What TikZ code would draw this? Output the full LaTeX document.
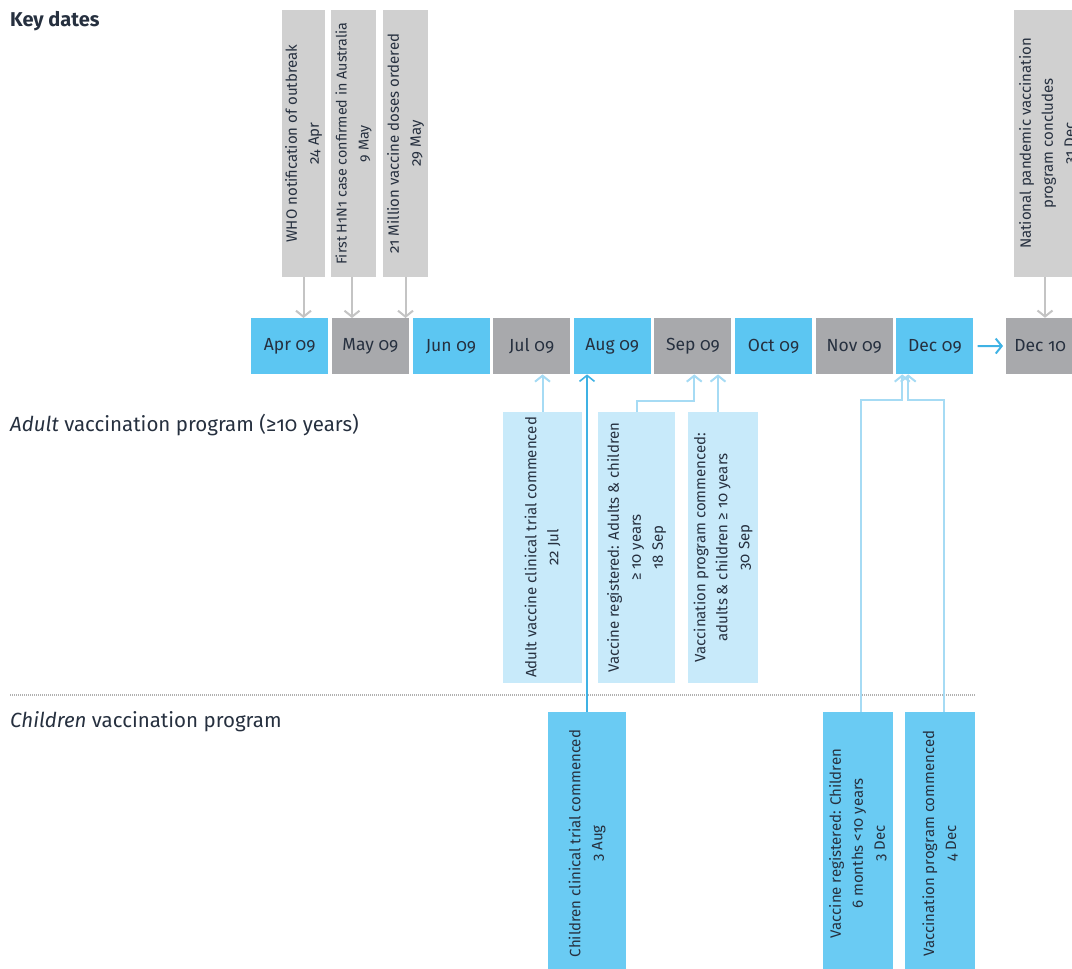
\documentclass[tikz,border=0pt]{standalone}
\usepackage{fontspec}
\setmainfont{Fira Sans}[Numbers=OldStyle]
\usepackage{xcolor}
\usetikzlibrary{arrows.meta,calc,positioning}

\definecolor{monthblue}{HTML}{5CC6F2}
\definecolor{monthgray}{HTML}{A8A9AC}
\definecolor{keygray}{HTML}{D0D0D0}
\definecolor{adultblue}{HTML}{C8EAFA}
\definecolor{childblue}{HTML}{6ACBF3}
\definecolor{arrowgray}{HTML}{C4C4C4}
\definecolor{linkblue}{HTML}{A6DBF4}
\definecolor{trialblue}{HTML}{3FB2E4}
\definecolor{textdark}{HTML}{26303F}

\begin{document}
\begin{tikzpicture}[x=1pt,y=-1pt,
monthnode/.style={rectangle, inner sep=0pt, minimum width=77pt, minimum height=56pt, text=textdark, font={\fontsize{17.5}{20}\selectfont}},
keynode/.style={rectangle, fill=keygray, rotate=90, inner sep=0pt, align=center, text=textdark, font={\fontsize{15}{22}\selectfont}},
adultnode/.style={keynode, fill=adultblue},
childnode/.style={keynode, fill=childblue},
heading/.style={anchor=base west, inner sep=0pt, text=textdark, font={\fontsize{20.5}{24}\selectfont}},
grayarrow/.style={draw=arrowgray, line width=2pt, -{Straight Barb[length=6pt,width=15pt]}},
linkarrow/.style={draw=linkblue, line width=2pt, -{Straight Barb[length=6pt,width=15pt]}},
trialarrow/.style={draw=trialblue, line width=1.6pt, -{Straight Barb[length=6pt,width=15pt]}},
]
\useasboundingbox (0,0) rectangle (1072,969);
\clip (0,0) rectangle (1072,969);

%Headings
\node[heading, font={\fontsize{20}{24}\selectfont\bfseries}] (keyhead) at (10,27) {Key dates};
\node[heading] (adulthead) at (10,431) {\textit{Adult} vaccination program (≥10 years)};
\node[heading] (childhead) at (10,727) {\textit{Children} vaccination program};

%Months
\node[monthnode, fill=monthblue, anchor=north west] (apr) at (251,318) {Apr 09};
\node[monthnode, fill=monthgray] (may) [right=3.25pt of apr] {May 09};
\node[monthnode, fill=monthblue] (jun) [right=3.25pt of may] {Jun 09};
\node[monthnode, fill=monthgray] (jul) [right=3.25pt of jun] {Jul 09};
\node[monthnode, fill=monthblue] (aug) [right=3.25pt of jul] {Aug 09};
\node[monthnode, fill=monthgray] (sep) [right=3.25pt of aug] {Sep 09};
\node[monthnode, fill=monthblue] (oct) [right=3.25pt of sep] {Oct 09};
\node[monthnode, fill=monthgray] (nov) [right=3.25pt of oct] {Nov 09};
\node[monthnode, fill=monthblue] (dec) [right=3.25pt of nov] {Dec 09};
\node[monthnode, fill=monthgray, minimum width=80pt, anchor=west] (decnext) at (1006,346) {\hspace*{-12pt}Dec 10};

%Key dates
\node[keynode, minimum width=267pt, minimum height=43pt] (who) at (303.5,143.5) {WHO notification of outbreak\\24 Apr};
\node[keynode, minimum width=267pt, minimum height=45pt, font={\fontsize{14.3}{22}\selectfont}] (firstcase) at (353.5,143.5) {First H1N1 case confirmed in Australia\\9 May};
\node[keynode, minimum width=267pt, minimum height=45pt] (doses) at (405.5,143.5) {21 Million vaccine doses ordered\\29 May};
\node[keynode, minimum width=267pt, minimum height=68pt] (natprog) at (1048,143.5) {National pandemic vaccination\\program concludes\\31 Dec};

%Adult program
\node[adultnode, minimum width=271pt, minimum height=79pt] (adtrial) at (542.5,547.5) {Adult vaccine clinical trial commenced\\22 Jul};
\node[adultnode, minimum width=271pt, minimum height=77pt] (adreg) at (636.5,547.5) {Vaccine registered: Adults \& children\\≥ 10 years\\18 Sep};
\node[adultnode, minimum width=271pt, minimum height=70pt] (adprog) at (723,547.5) {Vaccination program commenced:\\adults \& children ≥ 10 years\\30 Sep};

%Children program
\node[childnode, minimum width=263pt, minimum height=78pt] (chtrial) at (587,843.5) {Children clinical trial commenced\\3 Aug};
\node[childnode, minimum width=263pt, minimum height=70pt] (chreg) at (858,843.5) {Vaccine registered: Children\\6 months <10 years\\3 Dec};
\node[childnode, minimum width=263pt, minimum height=70pt] (chprog) at (940,843.5) {Vaccination program commenced\\4 Dec};

%Separator
\draw[arrowgray!90!black, line width=1.5pt, dash pattern=on 1pt off 1pt] (10,695) -- (975,695);

%Connectors
\draw[grayarrow] (who.west) -- (who.west |- apr.north);
\draw[grayarrow] ([xshift=-1.5pt]firstcase.west) -- ([xshift=-1.5pt]firstcase.west |- may.north);
\draw[grayarrow] (doses.west) -- (doses.west |- may.north);
\draw[grayarrow] ([xshift=-3pt]natprog.west) -- ([xshift=-3pt]natprog.west |- decnext.north);
\draw[linkarrow] (adtrial.east) -- (adtrial.east |- jul.south);
\draw[linkarrow] (adreg.east) |- ([xshift=40pt,yshift=-27pt]sep.south west) -- ([xshift=40pt]sep.south west);
\draw[linkarrow] ([xshift=-5pt]adprog.east) -- ([xshift=-5pt]adprog.east |- sep.south);
\draw[trialarrow] (chtrial.east) -- (chtrial.east |- aug.south);
\draw[linkarrow] ([xshift=3pt]chreg.east) |- ([xshift=6pt,yshift=-26pt]dec.south west) -- ([xshift=6pt]dec.south west);
\draw[linkarrow] ([xshift=4pt]chprog.east) |- ([xshift=12pt,yshift=-26pt]dec.south west) -- ([xshift=12pt]dec.south west);
\draw[trialarrow, line width=2pt, shorten <=4pt, shorten >=3pt] (dec.east) -- (decnext.west);
\end{tikzpicture}
\end{document}
